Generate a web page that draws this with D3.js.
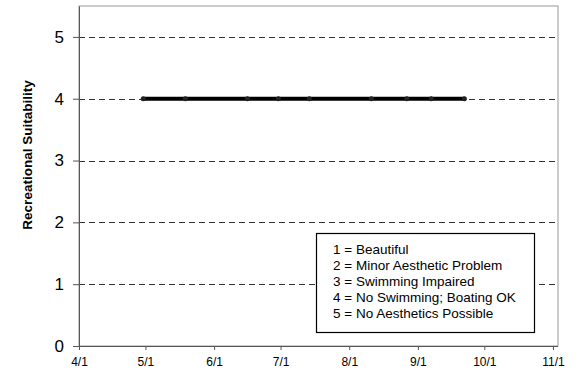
<!DOCTYPE html>
<html>
<head>
<meta charset="utf-8">
<script src="https://cdn.jsdelivr.net/npm/d3@7"></script>
<style>
  body { margin: 0; background: #fff; }
  text { font-family: "Liberation Sans", Arial, sans-serif; }
</style>
</head>
<body>
<div id="chart"></div>
<script>
/* DATA */
const sampleDates = ["2006-04-30", "2006-05-19", "2006-06-16", "2006-06-30", "2006-07-14",
  "2006-08-11", "2006-08-27", "2006-09-07", "2006-09-22"];
const suitability = [4, 4, 4, 4, 4, 4, 4, 4, 4];
const xTickLabels = ["4/1", "5/1", "6/1", "7/1", "8/1", "9/1", "10/1", "11/1"];
const yTicks = [0, 1, 2, 3, 4, 5];
const legendLines = ["1 = Beautiful", "2 = Minor Aesthetic Problem", "3 = Swimming Impaired",
  "4 = No Swimming; Boating OK", "5 = No Aesthetics Possible"];

/* CONSTANTS */
const width = 587,
  height = 376,
  margin = { top: 6, right: 29, bottom: 30, left: 79 };

const parseDate = d3.timeParse("%Y-%m-%d");
const data = sampleDates.map((d, i) => ({ date: parseDate(d), value: suitability[i] }));
const tickDates = xTickLabels.map(t => {
  const [m, day] = t.split("/").map(Number);
  return new Date(2006, m - 1, day);
});

const svg = d3.select("#chart").append("svg")
  .attr("width", width)
  .attr("height", height);

// scales
const xScale = d3.scaleTime()
  .domain([tickDates[0], tickDates[tickDates.length - 1]])
  .range([margin.left, 553]);

const yScale = d3.scaleLinear()
  .domain([0, 5.5])
  .range([height - margin.bottom, margin.top]);

// plot frame (top/right lighter)
svg.append("rect")
  .attr("x", margin.left)
  .attr("y", margin.top)
  .attr("width", width - margin.right - margin.left)
  .attr("height", height - margin.bottom - margin.top)
  .attr("fill", "#fff")
  .attr("stroke", "#999")
  .attr("stroke-width", 1);

// gridlines
svg.append("g")
  .selectAll("line")
  .data(yTicks.filter(d => d > 0))
  .join("line")
  .attr("x1", margin.left)
  .attr("x2", width - margin.right)
  .attr("y1", d => Math.round(yScale(d)) + 0.5)
  .attr("y2", d => Math.round(yScale(d)) + 0.5)
  .attr("stroke", "#333")
  .attr("stroke-dasharray", "6,4");

// axes
const xAxis = d3.axisBottom(xScale)
  .tickValues(tickDates)
  .tickFormat((d, i) => xTickLabels[i])
  .tickSize(4)
  .tickSizeOuter(0)
  .tickPadding(7);

const yAxis = d3.axisLeft(yScale)
  .tickValues(yTicks)
  .tickFormat(d3.format("d"))
  .tickSize(6)
  .tickSizeOuter(0)
  .tickPadding(9);

const xAxisGroup = svg.append("g")
  .attr("transform", `translate(0,${height - margin.bottom})`)
  .call(xAxis);
xAxisGroup.select(".domain")
  .attr("d", `M${margin.left},0.5H${width - margin.right}`)
  .attr("stroke", "#555");
xAxisGroup.selectAll(".tick line").attr("stroke", "#555");
xAxisGroup.selectAll(".tick text")
  .attr("font-size", 12)
  .attr("fill", "#000")
  .style("font-family", "'Liberation Sans', Arial, sans-serif");

const yAxisGroup = svg.append("g")
  .attr("transform", `translate(${margin.left},0)`)
  .call(yAxis);
yAxisGroup.select(".domain").attr("stroke", "#555");
yAxisGroup.selectAll(".tick line").attr("stroke", "#555");
yAxisGroup.selectAll(".tick text")
  .attr("font-size", 17)
  .attr("fill", "#000")
  .style("font-family", "'Liberation Sans', Arial, sans-serif");

// y axis title
svg.append("text")
  .attr("transform", `translate(32,155) rotate(-90)`)
  .attr("text-anchor", "middle")
  .attr("font-size", 13.5)
  .attr("font-weight", "bold")
  .text("Recreational Suitability");

// line
const line = d3.line()
  .x(d => xScale(d.date))
  .y(d => yScale(d.value));

svg.append("path")
  .datum(data)
  .attr("d", line)
  .attr("fill", "none")
  .attr("stroke", "#000")
  .attr("stroke-width", 4);

svg.append("g")
  .selectAll("circle")
  .data(data)
  .join("circle")
  .attr("cx", d => xScale(d.date))
  .attr("cy", d => yScale(d.value))
  .attr("r", 2.5)
  .attr("fill", "#222");

// legend box
const legend = svg.append("g").attr("transform", "translate(316,233)");
legend.append("rect")
  .attr("x", 0.5)
  .attr("y", 0.5)
  .attr("width", 218)
  .attr("height", 99)
  .attr("fill", "#fff")
  .attr("stroke", "#000")
  .attr("stroke-width", 1.2);

legend.selectAll("text")
  .data(legendLines)
  .join("text")
  .attr("x", 17)
  .attr("y", (d, i) => 21 + i * 15.9)
  .attr("font-size", 13.5)
  .text(d => d);
</script>
</body>
</html>
